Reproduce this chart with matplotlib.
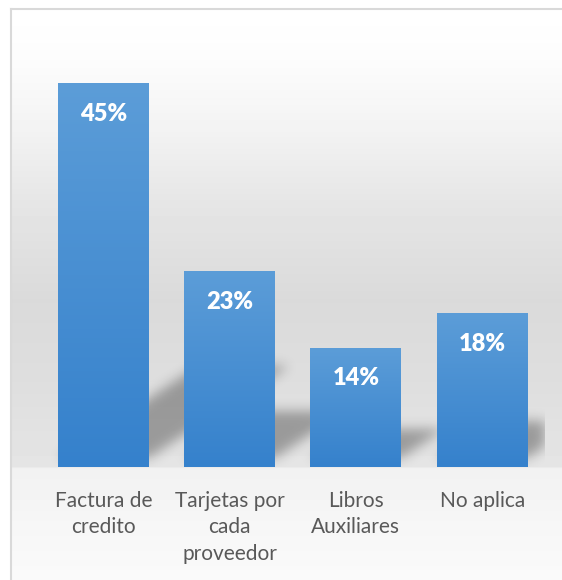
import numpy as np
import matplotlib.pyplot as plt
from matplotlib.colors import LinearSegmentedColormap

categories = ["Factura de\ncredito", "Tarjetas por\ncada\nproveedor", "Libros\nAuxiliares", "No aplica"]
values = [45, 23, 14, 18]
value_labels = ["45%", "23%", "14%", "18%"]

W, H = 562, 580
fig = plt.figure(figsize=(W / 100, H / 100), dpi=100)

# chart area background: soft vertical gray gradient inside the frame
bg = fig.add_axes([0, 0, 1, 1], zorder=-2)
bg.set_xlim(0, W)
bg.set_ylim(H, 0)
bg.axis("off")
rows = np.arange(H)
prof_y = [8, 60, 120, 200, 300, 380, 466, 468, 520, 580]
prof_g = [255, 252, 244, 230, 218, 222, 229, 241, 246, 250]
shade = np.interp(rows, prof_y, prof_g) / 255
bg_img = np.repeat(shade[:, None], W, axis=1)
bg_img[:8, :] = 1
bg_img[:, :11] = 1
bg.imshow(bg_img, cmap="gray", vmin=0, vmax=1, extent=(0, W, H, 0),
          aspect="auto", interpolation="bilinear")
bg.plot([11, 11], [8.5, H], color="#d9d9d9", lw=1.5)
bg.plot([11, W], [8.5, 8.5], color="#d9d9d9", lw=1.5)

ax = fig.add_axes([40.3 / W, 113 / H, 505 / W, 426.7 / H])
ax.patch.set_visible(False)
x = np.arange(len(values))
bar_w = 0.72
xlim = (-0.5, 3.5)
ylim = (0, 50)

# perspective shadows behind the bars
xs = np.linspace(xlim[0], xlim[1], 505)
ys = np.linspace(ylim[0], ylim[1], 427)
gx, gy = np.meshgrid(xs, ys)
mask = np.zeros_like(gx)
lift = 1.0
for xi, v in zip(x, values):
    sh_h = 0.24 * v
    sh_d = 0.0247 * v
    t = (gy - lift) / sh_h
    inside = (t >= 0) & (t <= 1)
    left = xi - bar_w / 2 + t * sh_d
    right = xi + bar_w / 2 + t * sh_d
    inside &= (gx >= left) & (gx <= right)
    mask = np.maximum(mask, inside.astype(float))

sigma = 6
k = np.arange(-3 * sigma, 3 * sigma + 1)
kern = np.exp(-k ** 2 / (2 * sigma ** 2))
kern /= kern.sum()
blur = np.apply_along_axis(lambda r: np.convolve(r, kern, mode="same"), 1, mask)
blur = np.apply_along_axis(lambda c: np.convolve(c, kern, mode="same"), 0, blur)
shadow = np.zeros(mask.shape + (4,))
shadow[..., 3] = 0.32 * blur
ax.imshow(shadow, extent=(xlim[0], xlim[1], ylim[0], ylim[1]), origin="lower",
          aspect="auto", zorder=1)

# bars with a vertical blue gradient
bars = ax.bar(x, values, width=bar_w, color="none", zorder=3)
bar_cmap = LinearSegmentedColormap.from_list("bar_blue", ["#3581cc", "#5c9dd8"])
grad = np.linspace(0, 1, 256)[:, None]
for b in bars:
    x0, y0 = b.get_x(), b.get_y()
    im = ax.imshow(grad, cmap=bar_cmap, extent=(x0, x0 + b.get_width(), y0, y0 + b.get_height()),
                   origin="lower", aspect="auto", zorder=3)
    im.set_clip_path(b)

for xi, v, lab in zip(x, values, value_labels):
    ax.annotate(lab, (xi, v), xytext=(0, -22.3), textcoords="offset points",
                ha="center", va="center", color="white", fontsize=17,
                fontweight="heavy", family="Lato", zorder=4)

ax.set_xlim(*xlim)
ax.set_ylim(*ylim)
ax.set_yticks([])
ax.set_xticks(x, categories)
ax.tick_params(axis="x", length=0, pad=17)
for t in ax.get_xticklabels():
    t.set_fontsize(15)
    t.set_color("#595959")
    t.set_family("Lato")
    t.set_linespacing(1.41)
for s in ax.spines.values():
    s.set_visible(False)

fig.savefig("out.png", dpi=100)
